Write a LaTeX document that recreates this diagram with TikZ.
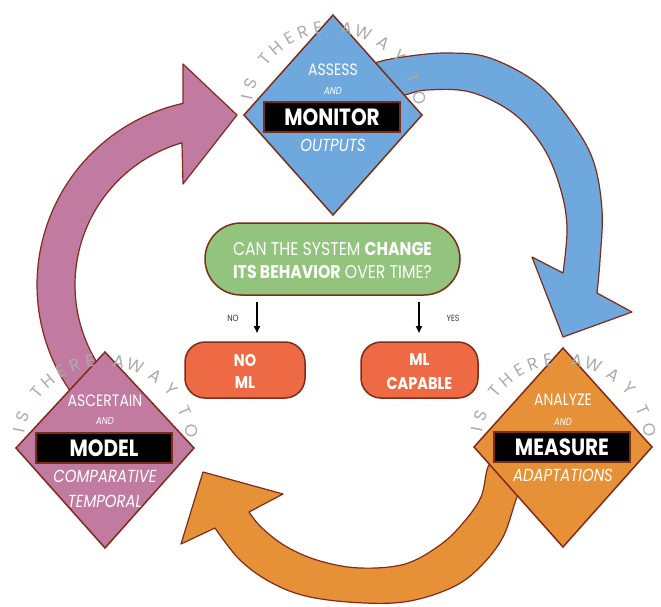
\documentclass[tikz,border=0pt]{standalone}
\usepackage{fontspec}
\setmainfont{Poppins}
\newfontfamily\pf[FakeStretch=0.85]{Poppins}
\newfontfamily\af{Poppins}
\usetikzlibrary{arrows.meta}
\definecolor{bord}{HTML}{7F2B1A}
\definecolor{bluec}{HTML}{6FA8DC}
\definecolor{pinkc}{HTML}{C27BA0}
\definecolor{orangec}{HTML}{E69138}
\definecolor{greenc}{HTML}{93C47D}
\definecolor{boxc}{HTML}{EE6A45}
\definecolor{arcgray}{HTML}{ABABAB}
\newcommand\arcword[3]{%
  \foreach \ch/\a [count=\i] in {I/168.4,S/159.4,T/140.5,H/130.5,E/119.7,R/110.1,E/99.8,A/81,W/69.9,A/54.9,Y/41.5,T/24.4,O/11.1}{
    \node[arcl, rotate=\a-90] (#3\i) at ({#1+88*cos(\a)},{#2-88*sin(\a)}) {\ch};
  }}
\begin{document}
\begin{tikzpicture}[x=1pt,y=-1pt,
  bigarrow/.style={draw=bord, line width=1.2pt, line join=round},
  dia/.style={draw=bord, line width=1.5pt, line join=miter},
  dtxt/.style={text=white, inner sep=0pt, font=\pf\fontsize{16.5}{16.5}\selectfont},
  dand/.style={text=white, inner sep=0pt, font=\pf\itshape\fontsize{10}{10}\selectfont},
  dit/.style={text=white, inner sep=0pt, font=\pf\itshape\fontsize{17.5}{17.5}\selectfont},
  bbox/.style={fill=black, draw=bord, line width=1.2pt, minimum width=136pt, minimum height=30pt, inner sep=0pt, text=white, font=\pf\bfseries\fontsize{23.5}{23.5}\selectfont},
  arcl/.style={text=arcgray, inner sep=0pt, font=\af\fontsize{17}{17}\selectfont},
  rbox/.style={fill=boxc, draw=bord, line width=1.5pt, rounded corners=20pt, minimum height=56pt},
  ctxt/.style={text=white, inner sep=0pt, font=\pf\fontsize{18.5}{18.5}\selectfont},
  cbold/.style={text=white, inner sep=0pt, font=\pf\bfseries\fontsize{17}{17}\selectfont},
  small/.style={text=black!80, inner sep=0pt, font=\pf\fontsize{9}{9}\selectfont},
  decarrow/.style={line width=1.8pt, -{Triangle[length=7pt,width=6pt]}}
]
\useasboundingbox (0,0) rectangle (661,606);

% pink arrow
\draw[bigarrow, fill=pinkc] plot[domain=140:257.6, samples=60, variable=\t] ({223+186*cos(\t)},{285+186*sin(\t)})
  -- (183,64) -- (237,115) -- (183,184)
  -- plot[domain=253.9:140, samples=60, variable=\t] ({223+148*cos(\t)},{285+148*sin(\t)}) -- cycle;

% blue arrow
\draw[bigarrow, fill=bluec] plot[smooth, tension=0.6] coordinates {(360,75) (375,63) (410,56) (450,53) (490,58) (537,83) (570,120) (593,160) (602,210) (600,260) (597,293)}
  -- (632,312) -- (563,337) -- (532,257)
  -- plot[smooth, tension=0.6] coordinates {(563,273) (567,227) (560,187) (543,147) (513,113) (470,92) (427,90) (405,95) (385,100)} -- cycle;

% orange arrow
\draw[bigarrow, fill=orangec] plot[smooth, tension=0.6] coordinates {(528,475) (517,497) (503,537) (480,567) (453,587) (410,601) (365,603) (310,597) (272,583) (240,560) (215,528)}
  -- (181,544) -- (203,472) -- (283,494)
  -- plot[smooth, tension=0.6] coordinates {(249,512) (262,528) (287,547) (320,561) (360,568) (405,564) (440,545) (463,523) (481,497) (488,467) (500,455)} -- cycle;

% diamonds
\draw[dia, fill=bluec] (333,15) -- (422,115) -- (333,215) -- (244,115) -- cycle;
\draw[dia, fill=pinkc] (105,352) -- (194,448) -- (105,548) -- (16,448) -- cycle;
\draw[dia, fill=orangec] (563,348) -- (652,447) -- (563,547) -- (474,447) -- cycle;

% top diamond text
\node[dtxt] (assess) at (333,70) {ASSESS};
\node[dand] (and1) at (333,91) {AND};
\node[bbox] (monitor) at (332,117) {MONITOR};
\node[dit] (outputs) at (333,145) {OUTPUTS};

% left diamond text
\node[dtxt] (ascertain) at (105,401) {ASCERTAIN};
\node[dand] (and2) at (105,421) {AND};
\node[bbox] (model) at (104,448) {MODEL};
\node[dit] (comparative) at (105,476) {COMPARATIVE};
\node[dit] (temporal) at (105,501) {TEMPORAL};

% right diamond text
\node[dtxt] (analyze) at (563,400) {ANALYZE};
\node[dand] (and3) at (563,422) {AND};
\node[bbox] (measure) at (562,447) {MEASURE};
\node[dit] (adaptations) at (563,475) {ADAPTATIONS};

% arc words
\arcword{333}{115}{ta}
\arcword{105}{448}{la}
\arcword{563}{447}{ra}

% center
\node[draw=bord, fill=greenc, line width=1.5pt, rounded corners=36pt, minimum width=255pt, minimum height=72pt] (question) at (332.5,259) {};
\node[ctxt] (q1) at (332.5,249) {CAN THE SYSTEM \textbf{CHANGE}};
\node[ctxt] (q2) at (332.5,272) {\textbf{ITS BEHAVIOR} OVER TIME?};

\node[rbox, minimum width=120pt] (noml) at (245,370) {};
\node[cbold] (noml1) at (245,360) {NO};
\node[cbold] (noml2) at (245,383) {ML};
\node[rbox, minimum width=117pt] (mlcap) at (419.5,370) {};
\node[cbold] (mlcap1) at (419.5,360) {ML};
\node[cbold] (mlcap2) at (419.5,383) {CAPABLE};

\coordinate (noA) at (257,302);
\coordinate (noB) at (257,333);
\coordinate (yesA) at (419,302);
\coordinate (yesB) at (419,333);
\draw[decarrow] (noA) -- (noB);
\draw[decarrow] (yesA) -- (yesB);
\node[small] (nolbl) at (233,318) {NO};
\node[small] (yeslbl) at (453,318) {YES};
\end{tikzpicture}
\end{document}
